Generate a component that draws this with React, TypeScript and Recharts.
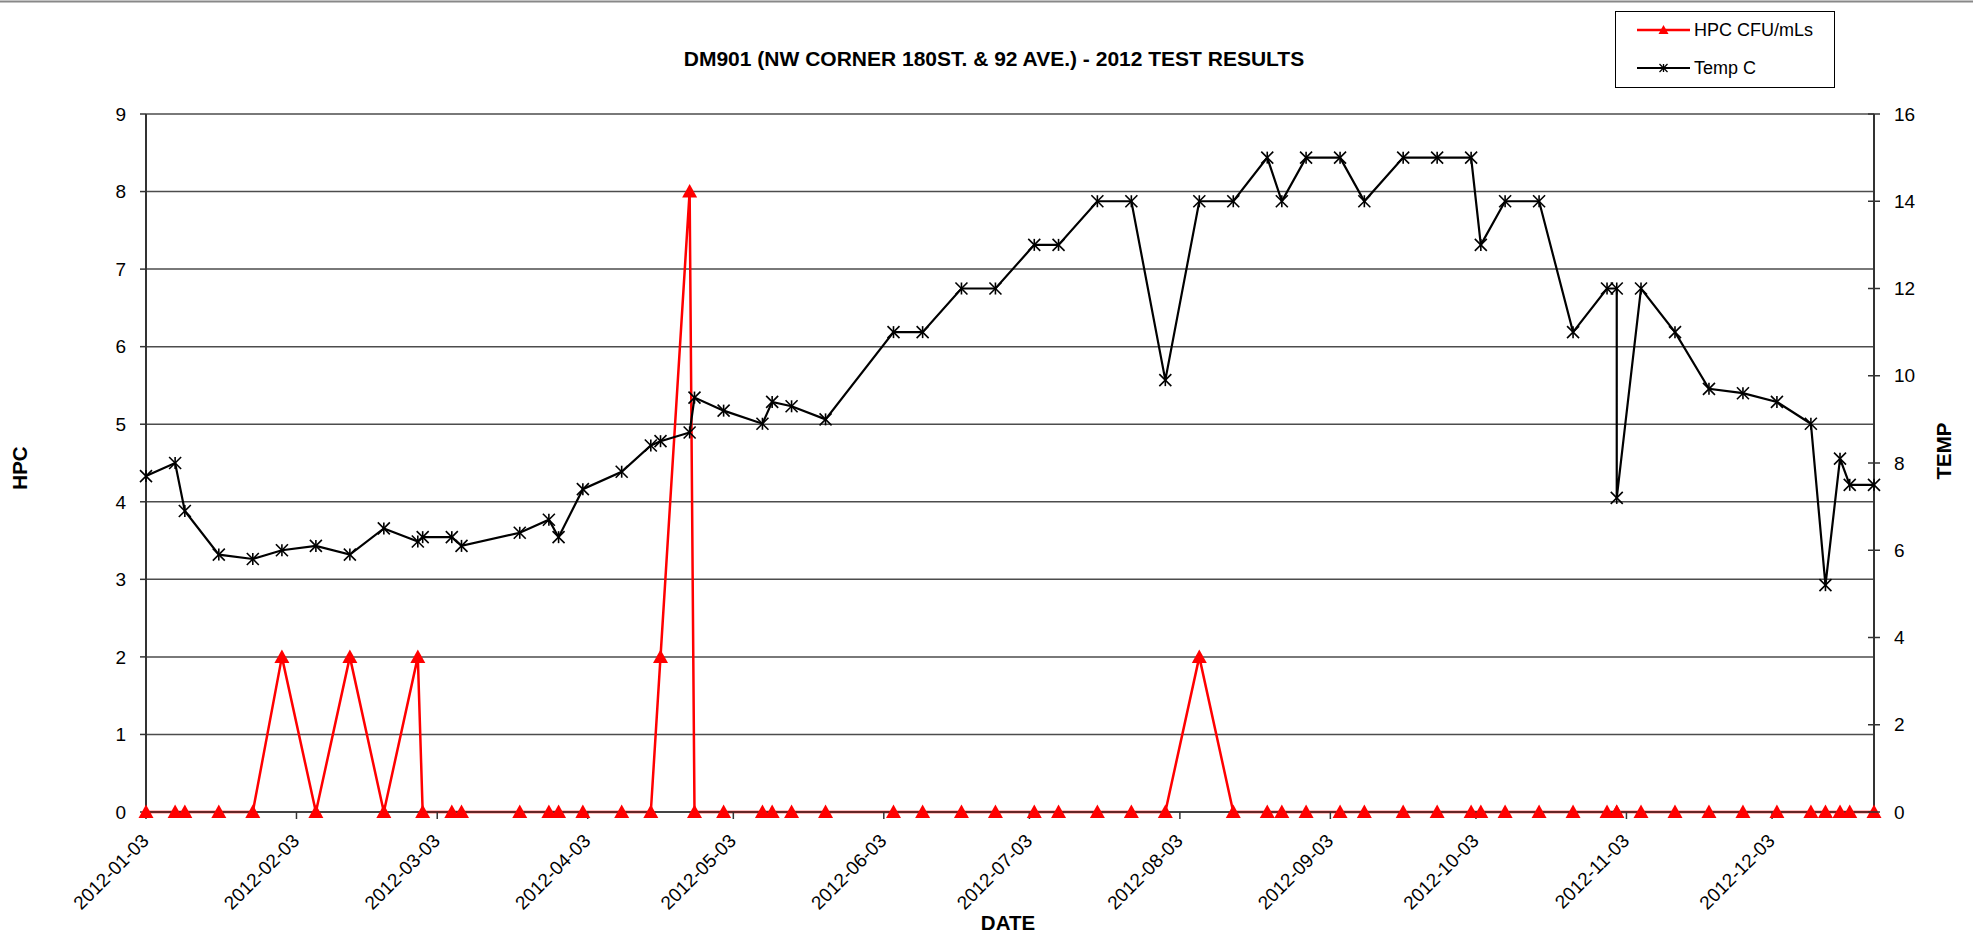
import React from 'react';
import { LineChart, Line, XAxis, YAxis, CartesianGrid } from 'recharts';

// sample dates (weekly-ish sampling at DM901)
const sampleDates = [
  '2012-01-03', '2012-01-09', '2012-01-11', '2012-01-18', '2012-01-25', '2012-01-31',
  '2012-02-07', '2012-02-14', '2012-02-21', '2012-02-28', '2012-02-29',
  '2012-03-06', '2012-03-08', '2012-03-20', '2012-03-26', '2012-03-28',
  '2012-04-02', '2012-04-10', '2012-04-16', '2012-04-18', '2012-04-24', '2012-04-25',
  '2012-05-01', '2012-05-09', '2012-05-11', '2012-05-15', '2012-05-22',
  '2012-06-05', '2012-06-11', '2012-06-19', '2012-06-26',
  '2012-07-04', '2012-07-09', '2012-07-17', '2012-07-24', '2012-07-31',
  '2012-08-07', '2012-08-14', '2012-08-21', '2012-08-24', '2012-08-29',
  '2012-09-05', '2012-09-10', '2012-09-18', '2012-09-25',
  '2012-10-02', '2012-10-04', '2012-10-09', '2012-10-16', '2012-10-23', '2012-10-30',
  '2012-11-01', '2012-11-01', '2012-11-06', '2012-11-13', '2012-11-20', '2012-11-27',
  '2012-12-04', '2012-12-11', '2012-12-14', '2012-12-17', '2012-12-19', '2012-12-24',
];

// HPC CFU/mLs
const hpcValues = [
  0, 0, 0, 0, 0, 2,
  0, 2, 0, 2, 0,
  0, 0, 0, 0, 0,
  0, 0, 0, 2, 8, 0,
  0, 0, 0, 0, 0,
  0, 0, 0, 0,
  0, 0, 0, 0, 0,
  2, 0, 0, 0, 0,
  0, 0, 0, 0,
  0, 0, 0, 0, 0, 0,
  0, 0, 0, 0, 0, 0,
  0, 0, 0, 0, 0, 0,
];

// Temp C
const tempValues = [
  7.7, 8.0, 6.9, 5.9, 5.8, 6.0,
  6.1, 5.9, 6.5, 6.2, 6.3,
  6.3, 6.1, 6.4, 6.7, 6.3,
  7.4, 7.8, 8.4, 8.5, 8.7, 9.5,
  9.2, 8.9, 9.4, 9.3, 9.0,
  11, 11, 12, 12,
  13, 13, 14, 14, 9.9,
  14, 14, 15, 14, 15,
  15, 14, 15, 15,
  15, 13, 14, 14, 11, 12,
  12, 7.2, 12, 11, 9.7, 9.6,
  9.4, 8.9, 5.2, 8.1, 7.5, 7.5,
];

const monthTicks = [
  '2012-01-03', '2012-02-03', '2012-03-03', '2012-04-03', '2012-05-03', '2012-06-03',
  '2012-07-03', '2012-08-03', '2012-09-03', '2012-10-03', '2012-11-03', '2012-12-03',
];
const hpcTicks = [0, 1, 2, 3, 4, 5, 6, 7, 8, 9];
const tempTicks = [0, 2, 4, 6, 8, 10, 12, 14, 16];

const HPC_COLOR = '#ff0000';
const TEMP_COLOR = '#000000';
const FONT = '"Liberation Sans", Arial, sans-serif';

const toTime = (d: string) =>
  Date.UTC(Number(d.slice(0, 4)), Number(d.slice(5, 7)) - 1, Number(d.slice(8, 10)));
const fmtDate = (t: number) => new Date(t).toISOString().slice(0, 10);

const chartData = sampleDates.map((d, i) => ({
  t: toTime(d),
  hpc: hpcValues[i],
  temp: tempValues[i],
}));

const triPath = (cx: number, cy: number, w: number, up: number, down: number) =>
  `M${cx},${cy - up} L${cx + w},${cy + down} L${cx - w},${cy + down} Z`;

const TriangleDot = ({ cx, cy }: any) => {
  if (cx == null || cy == null) return null;
  return <path d={triPath(cx, cy, 7.5, 7.5, 6)} fill={HPC_COLOR} />;
};

const StarDot = ({ cx, cy }: any) => {
  if (cx == null || cy == null) return null;
  const s = 6;
  return (
    <g stroke={TEMP_COLOR} strokeWidth={1.6}>
      <line x1={cx - s} y1={cy - s} x2={cx + s} y2={cy + s} />
      <line x1={cx - s} y1={cy + s} x2={cx + s} y2={cy - s} />
      <line x1={cx} y1={cy - s} x2={cx} y2={cy + s} />
    </g>
  );
};

const DateTick = ({ x, y, payload }: any) => {
  const ax = x + 4;
  const ay = y + 23;
  return (
    <text
      x={ax}
      y={ay}
      transform={`rotate(-45 ${ax} ${ay})`}
      textAnchor="end"
      fontSize={19}
      fontFamily={FONT}
      fill="#000"
    >
      {fmtDate(payload.value)}
    </text>
  );
};

const TempTick = ({ x, y, payload }: any) => (
  <g>
    <line x1={x - 6} y1={y} x2={x + 6} y2={y} stroke="#333" strokeWidth={1.5} />
    <text x={x + 20} y={y} dy="0.35em" fontSize={19} fontFamily={FONT} fill="#000">
      {payload.value}
    </text>
  </g>
);

const App = () => {
  return (
    <div style={{ position: 'absolute', left: 0, top: 0, width: 1973, height: 939, background: '#fff' }}>
      <LineChart
        width={1973}
        height={939}
        data={chartData}
        margin={{ top: 114, right: 0, bottom: 0, left: 0 }}
      >
        <CartesianGrid yAxisId="hpc" vertical={false} stroke="#4d4d4d" strokeWidth={1.5} />
        <XAxis
          dataKey="t"
          type="number"
          domain={['dataMin', 'dataMax']}
          ticks={monthTicks.map(toTime)}
          interval={0}
          height={127}
          tickSize={7}
          tickMargin={0}
          axisLine={{ stroke: '#333', strokeWidth: 1.5 }}
          tickLine={{ stroke: '#333', strokeWidth: 1.5 }}
          tick={<DateTick />}
        />
        <YAxis
          yAxisId="hpc"
          domain={[0, 9]}
          ticks={hpcTicks}
          interval={0}
          width={146}
          tickSize={6}
          tickMargin={14}
          axisLine={{ stroke: '#333', strokeWidth: 2 }}
          tickLine={{ stroke: '#333', strokeWidth: 1.5 }}
          tick={{ fontSize: 19, fill: '#000', fontFamily: FONT }}
        />
        <YAxis
          yAxisId="temp"
          orientation="right"
          domain={[0, 16]}
          ticks={tempTicks}
          interval={0}
          width={99}
          tickSize={0}
          tickMargin={0}
          tickLine={false}
          axisLine={{ stroke: '#333', strokeWidth: 2 }}
          tick={<TempTick />}
        />
        <Line
          yAxisId="hpc"
          dataKey="hpc"
          type="linear"
          stroke={HPC_COLOR}
          strokeWidth={2.5}
          dot={(p: any) => <TriangleDot key={`h${p.index}`} cx={p.cx} cy={p.cy} />}
          activeDot={false}
          isAnimationActive={false}
        />
        <Line
          yAxisId="temp"
          dataKey="temp"
          type="linear"
          stroke={TEMP_COLOR}
          strokeWidth={2.2}
          dot={(p: any) => <StarDot key={`t${p.index}`} cx={p.cx} cy={p.cy} />}
          activeDot={false}
          isAnimationActive={false}
        />
      </LineChart>

      {/* title, axis titles, legend */}
      <svg
        width={1973}
        height={939}
        style={{ position: 'absolute', left: 0, top: 0, pointerEvents: 'none' }}
        fontFamily={FONT}
      >
        <line x1={0} y1={1.5} x2={1973} y2={1.5} stroke="#888" strokeWidth={2} />
        <text x={994} y={65.5} textAnchor="middle" fontSize={21} fontWeight="bold" fill="#000">
          DM901 (NW CORNER 180ST. &amp; 92 AVE.) - 2012 TEST RESULTS
        </text>
        <text
          x={20}
          y={468}
          dy="0.35em"
          transform="rotate(-90 20 468)"
          textAnchor="middle"
          fontSize={20.5}
          fontWeight="bold"
          fill="#000"
        >
          HPC
        </text>
        <text
          x={1944}
          y={451}
          dy="0.35em"
          transform="rotate(-90 1944 451)"
          textAnchor="middle"
          fontSize={20.5}
          fontWeight="bold"
          fill="#000"
        >
          TEMP
        </text>
        <text x={1008} y={930} textAnchor="middle" fontSize={20.5} fontWeight="bold" fill="#000">
          DATE
        </text>

        <rect x={1615.5} y={11.5} width={219} height={76} fill="#fff" stroke="#000" strokeWidth={1} />
        <line x1={1637} y1={30} x2={1690} y2={30} stroke={HPC_COLOR} strokeWidth={2.5} />
        <path d={triPath(1663.5, 30, 5, 5, 4)} fill={HPC_COLOR} />
        <text x={1694} y={30} dy="0.35em" fontSize={18} fill="#000">
          HPC CFU/mLs
        </text>
        <line x1={1637} y1={68} x2={1690} y2={68} stroke={TEMP_COLOR} strokeWidth={2.2} />
        <g stroke={TEMP_COLOR} strokeWidth={1.3}>
          <line x1={1659.5} y1={64} x2={1667.5} y2={72} />
          <line x1={1659.5} y1={72} x2={1667.5} y2={64} />
          <line x1={1663.5} y1={64} x2={1663.5} y2={72} />
        </g>
        <text x={1694} y={68} dy="0.35em" fontSize={18} fill="#000">
          Temp C
        </text>
      </svg>
    </div>
  );
};

export default App;
